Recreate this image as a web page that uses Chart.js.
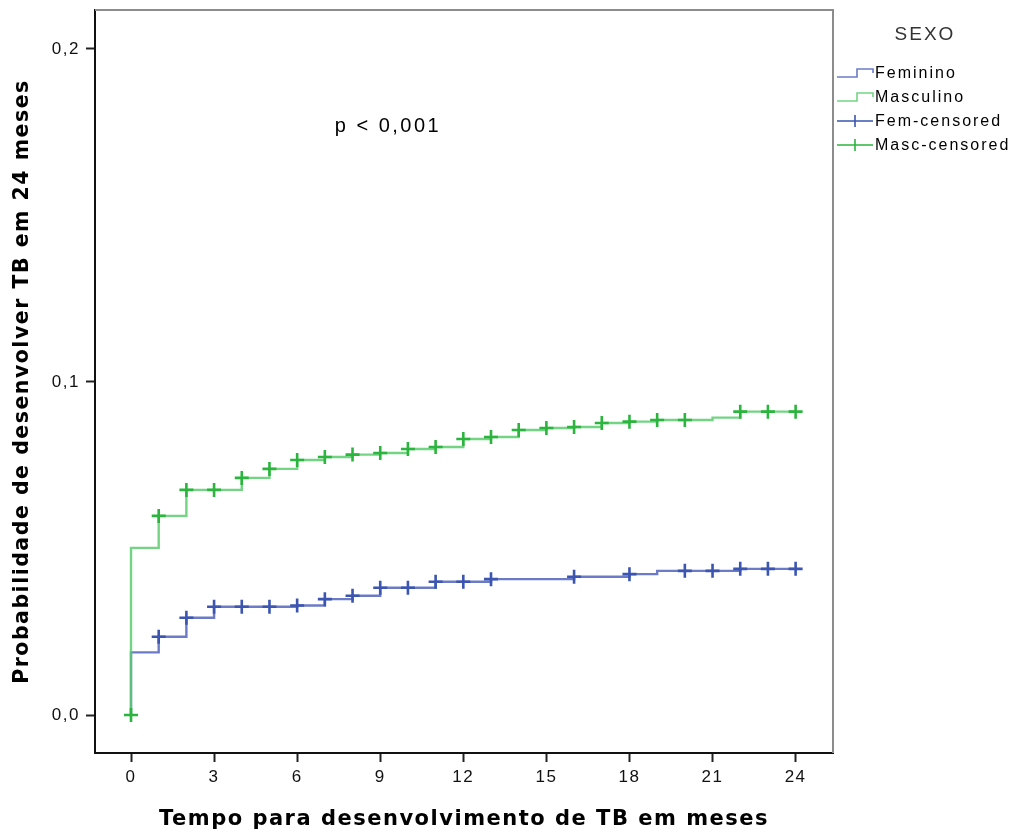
<!DOCTYPE html>
<html>
<head>
<meta charset="utf-8">
<script src="https://cdn.jsdelivr.net/npm/chart.js@4"></script>
<style>
  html, body { margin: 0; padding: 0; background: #fff; }
  #wrap { width: 1021px; height: 837px; }
</style>
</head>
<body>
<div id="wrap"><canvas id="kmChart" width="1021" height="837"></canvas></div>
<script>
// curvas (tempo em meses, probabilidade acumulada)
const femTimes = [0, 0, 1, 2, 3, 6, 7, 8, 9, 11, 13, 16, 18, 19, 22, 24];
const femValues = [0, 0.0188, 0.0235, 0.0292, 0.0325, 0.0329, 0.0348, 0.0358, 0.0382, 0.0400, 0.0408, 0.0415, 0.0423, 0.0433, 0.0439, 0.0439];
const mascTimes = [0, 0, 1, 2, 4, 5, 6, 7, 8, 9, 10, 11, 12, 13, 14, 15, 16, 17, 18, 19, 21, 22, 24];
const mascValues = [0, 0.0502, 0.0598, 0.0676, 0.0712, 0.0739, 0.0766, 0.0775, 0.0782, 0.0787, 0.0799, 0.0805, 0.0829, 0.0835, 0.0856, 0.0862, 0.0865, 0.0877, 0.0881, 0.0886, 0.0893, 0.0911, 0.0911];

// censuras
const femCensTimes = [1, 2, 3, 4, 5, 6, 7, 8, 9, 10, 11, 12, 13, 16, 18, 20, 21, 22, 23, 24];
const femCensValues = [0.0235, 0.0292, 0.0325, 0.0325, 0.0325, 0.0329, 0.0348, 0.0358, 0.0382, 0.0382, 0.0400, 0.0400, 0.0408, 0.0415, 0.0423, 0.0433, 0.0433, 0.0439, 0.0439, 0.0439];
const mascCensTimes = [0, 1, 2, 3, 4, 5, 6, 7, 8, 9, 10, 11, 12, 13, 14, 15, 16, 17, 18, 19, 20, 22, 23, 24];
const mascCensValues = [0, 0.0598, 0.0676, 0.0676, 0.0712, 0.0739, 0.0766, 0.0775, 0.0782, 0.0787, 0.0799, 0.0805, 0.0829, 0.0835, 0.0856, 0.0862, 0.0865, 0.0877, 0.0881, 0.0886, 0.0886, 0.0911, 0.0911, 0.0911];

const xTicks = [0, 3, 6, 9, 12, 15, 18, 21, 24];
const yTicks = [0, 0.1, 0.2];
const legendLabels = ['Feminino', 'Masculino', 'Fem-censored', 'Masc-censored'];

const blueLine = 'rgba(70, 90, 185, 0.8)';
const greenLine = 'rgba(90, 205, 110, 0.85)';
const blueMark = '#3b55b0';
const greenMark = '#2cb53e';
const FONT = "'Liberation Sans', Arial, sans-serif";
const TITLE_FONT = "'DejaVu Sans', sans-serif";

const pts = (xs, ys) => xs.map((x, i) => ({ x: x, y: ys[i] }));

const framePlugin = {
    id: 'frame',
    beforeDraw(chart) {
        // o SPSS espaça um pouco as letras
        chart.ctx.letterSpacing = '1.5px';
    },
    beforeDatasetsDraw(chart) {
        const a = chart.chartArea, c = chart.ctx;
        c.save();
        c.strokeStyle = '#8c8c8c';
        c.lineWidth = 2;
        c.beginPath();
        c.moveTo(a.left, a.top);
        c.lineTo(a.right, a.top);
        c.lineTo(a.right, a.bottom);
        c.stroke();
        c.restore();
    },
    afterDraw(chart) {
        const c = chart.ctx;
        const xs = chart.scales.x, ys = chart.scales.y;
        c.save();
        // p value
        c.fillStyle = '#000';
        c.letterSpacing = '2.5px';
        c.font = '20px ' + FONT;
        c.textAlign = 'center';
        c.textBaseline = 'middle';
        c.fillText('p < 0,001', xs.getPixelForValue(9.28), ys.getPixelForValue(0.1766));

        // legenda
        c.fillStyle = '#333';
        c.letterSpacing = '2px';
        c.font = '19px ' + FONT;
        c.fillText('SEXO', 925, 35);
        const colors = [blueLine, greenLine, blueMark, greenMark];
        c.font = '16px ' + FONT;
        c.textAlign = 'left';
        legendLabels.forEach((lab, i) => {
            const y = 73 + i * 24;
            c.strokeStyle = colors[i];
            c.lineWidth = 1.6;
            c.beginPath();
            if (i < 2) {
                c.moveTo(837, y + 4);
                c.lineTo(857, y + 4);
                c.lineTo(857, y - 4);
                c.lineTo(873, y - 4);
                c.lineTo(873, y);
            } else {
                c.moveTo(837, y);
                c.lineTo(873, y);
                c.moveTo(855, y - 6);
                c.lineTo(855, y + 6);
            }
            c.stroke();
            c.fillStyle = '#000';
            c.fillText(lab, 875, y + 1);
        });
        c.restore();
    }
};

const ctx = document.getElementById('kmChart').getContext('2d');
const kmChart = new Chart(ctx, {
    type: 'scatter',
    data: {
        datasets: [
            {
                label: 'Fem-censored',
                data: pts(femCensTimes, femCensValues),
                pointStyle: 'cross',
                pointRadius: 7,
                borderColor: blueMark,
                borderWidth: 2.6,
                showLine: false,
                order: 0
            },
            {
                label: 'Masc-censored',
                data: pts(mascCensTimes, mascCensValues),
                pointStyle: 'cross',
                pointRadius: 7,
                borderColor: greenMark,
                borderWidth: 2.6,
                showLine: false,
                order: 0
            },
            {
                label: 'Masculino',
                data: pts(mascTimes, mascValues),
                showLine: true,
                stepped: true,
                borderColor: greenLine,
                borderWidth: 2.4,
                pointRadius: 0,
                order: 1
            },
            {
                label: 'Feminino',
                data: pts(femTimes, femValues),
                showLine: true,
                stepped: true,
                borderColor: blueLine,
                borderWidth: 2.4,
                pointRadius: 0,
                order: 2
            }
        ]
    },
    options: {
        responsive: false,
        animation: false,
        layout: { padding: { top: 10, right: 188, left: 0, bottom: 0 } },
        plugins: {
            legend: { display: false },
            tooltip: { enabled: false }
        },
        scales: {
            x: {
                type: 'linear',
                min: -1.3,
                max: 25.35,
                afterBuildTicks: (s) => { s.ticks = xTicks.map(v => ({ value: v })); },
                afterFit: (s) => { s.height = 84; s.paddingLeft = 0; s.paddingRight = 0; },
                grid: { drawOnChartArea: false, tickLength: 9, tickColor: '#222', tickWidth: 2 },
                border: { display: true, color: '#111', width: 2 },
                ticks: { color: '#111', font: { family: FONT, size: 17 }, padding: 5, maxRotation: 0 },
                title: {
                    display: true,
                    text: 'Tempo para desenvolvimento de TB em meses',
                    color: '#000',
                    font: { family: TITLE_FONT, size: 21, weight: 'bold' },
                    padding: { top: 0, bottom: 5 }
                }
            },
            y: {
                type: 'linear',
                min: -0.0114,
                max: 0.2117,
                afterBuildTicks: (s) => { s.ticks = yTicks.map(v => ({ value: v })); },
                afterFit: (s) => { s.width = 95; s.paddingTop = 0; s.paddingBottom = 0; },
                grid: { drawOnChartArea: false, tickLength: 9, tickColor: '#222', tickWidth: 2 },
                border: { display: true, color: '#111', width: 2 },
                ticks: {
                    color: '#111',
                    font: { family: FONT, size: 17 },
                    padding: 6,
                    callback: (v) => v.toFixed(1).replace('.', ',')
                },
                title: {
                    display: true,
                    text: 'Probabilidade de desenvolver TB em 24 meses',
                    color: '#000',
                    font: { family: TITLE_FONT, size: 20.5, weight: 'bold' },
                    padding: { top: 10, bottom: 0 }
                }
            }
        }
    },
    plugins: [framePlugin]
});
</script>
</body>
</html>
